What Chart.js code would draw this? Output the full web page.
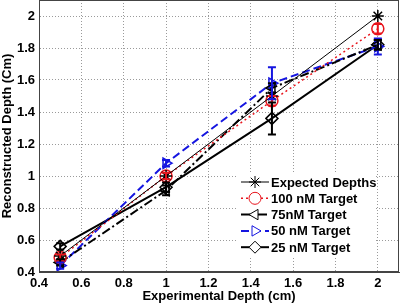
<!DOCTYPE html>
<html>
<head>
<meta charset="utf-8">
<script src="https://cdn.jsdelivr.net/npm/chart.js@4"></script>
<style>
  html, body { margin: 0; padding: 0; background: #fff; }
  #wrap { width: 400px; height: 304px; }
</style>
</head>
<body>
<div id="wrap"><canvas id="c" width="400" height="304"></canvas></div>
<script>
const depths = [0.5, 1, 1.5, 2];
const expected = [0.5, 1, 1.5, 2];
const nM100 = [0.49, 1.0, 1.47, 1.92];
const nM75 = [0.46, 0.91, 1.55, 1.82];
const nM50 = [0.44, 1.08, 1.58, 1.81];
const nM25 = [0.56, 0.93, 1.36, 1.82];
// half-width of the error bars, per point
const err100 = [0.02, 0.02, 0.03, 0.03];
const err75 = [0.02, 0.03, 0.03, 0.03];
const err50 = [0.02, 0.02, 0.1, 0.05];
const err25 = [0.02, 0.03, 0.1, 0.03];
const xTicks = [0.4, 0.6, 0.8, 1, 1.2, 1.4, 1.6, 1.8, 2];
const yTicks = [0.4, 0.6, 0.8, 1, 1.2, 1.4, 1.6, 1.8, 2];

const pts = (ys) => depths.map((x, i) => ({ x, y: ys[i] }));
const font = { family: "Arial, 'Liberation Sans', sans-serif", size: 13, weight: "bold" };
const fontCss = "bold 13px Arial, 'Liberation Sans', sans-serif";

const series = [
  { label: "Expected Depths", data: expected, err: null, color: "#000", dash: [], width: 1, style: "star", rot: 0 },
  { label: "100 nM Target", data: nM100, err: err100, color: "#e8141c", dash: [2, 3], width: 1.5, style: "circle", rot: 0 },
  { label: "75nM Target", data: nM75, err: err75, color: "#000", dash: [9, 3, 2, 3], width: 2, style: "triangle", rot: -90 },
  { label: "50 nM Target", data: nM50, err: err50, color: "#1515e0", dash: [8, 4], width: 2, style: "triangle", rot: 90 },
  { label: "25 nM Target", data: nM25, err: err25, color: "#000", dash: [], width: 2, style: "rectRot", rot: 0 },
];

const errorBars = {
  id: "errorBars",
  afterDatasetsDraw(chart) {
    const { ctx, scales } = chart;
    ctx.save();
    series.forEach((s) => {
      if (!s.err) return;
      ctx.strokeStyle = s.color;
      ctx.lineWidth = 2;
      ctx.setLineDash([]);
      s.data.forEach((v, i) => {
        const x = scales.x.getPixelForValue(depths[i]);
        const y1 = scales.y.getPixelForValue(v - s.err[i]);
        const y2 = scales.y.getPixelForValue(v + s.err[i]);
        ctx.beginPath();
        ctx.moveTo(x, y1); ctx.lineTo(x, y2);
        ctx.moveTo(x - 4, y1); ctx.lineTo(x + 4, y1);
        ctx.moveTo(x - 4, y2); ctx.lineTo(x + 4, y2);
        ctx.stroke();
      });
    });
    ctx.restore();
  },
};

// tick labels drawn by hand so the axes don't reserve extra padding
const tickLabels = {
  id: "tickLabels",
  afterDraw(chart) {
    const { ctx, scales, chartArea: a } = chart;
    ctx.save();
    ctx.font = fontCss;
    ctx.fillStyle = "#000";
    ctx.textBaseline = "middle";
    ctx.textAlign = "center";
    xTicks.forEach((v) => ctx.fillText(String(v), scales.x.getPixelForValue(v), a.bottom + 11));
    ctx.textAlign = "right";
    yTicks.forEach((v) => ctx.fillText(String(v), a.left - 4, scales.y.getPixelForValue(v)));
    ctx.restore();
  },
};

const boxLegend = {
  id: "boxLegend",
  afterDraw(chart) {
    const { ctx } = chart;
    const left = 238, top = 172, rowH = 16.3;
    ctx.save();
    ctx.fillStyle = "#fff";
    ctx.fillRect(left, top, 138, 84);
    ctx.font = fontCss;
    ctx.textBaseline = "middle";
    series.forEach((s, i) => {
      const y = top + 10 + i * rowH;
      ctx.strokeStyle = s.color;
      ctx.lineWidth = s.width;
      ctx.setLineDash(s.dash);
      ctx.beginPath();
      ctx.moveTo(left + 3, y); ctx.lineTo(left + 31, y);
      ctx.stroke();
      ctx.setLineDash([]);
      ctx.lineWidth = 1;
      ctx.fillStyle = "#fff";
      Chart.helpers.drawPoint(ctx, { pointStyle: s.style, radius: 6, rotation: s.rot, borderWidth: 1 }, left + 17, y);
      ctx.fillStyle = "#000";
      ctx.fillText(s.label, left + 33, y + 1);
    });
    ctx.restore();
  },
};

new Chart(document.getElementById("c"), {
  type: "line",
  data: {
    datasets: series.map((s) => ({
      label: s.label,
      data: pts(s.data),
      borderColor: s.color,
      borderWidth: s.width,
      borderDash: s.dash,
      pointStyle: s.style,
      pointRotation: s.rot,
      pointRadius: 6,
      pointBorderWidth: 1.5,
      pointBorderColor: s.color,
      pointBackgroundColor: "rgba(0,0,0,0)",
      tension: 0,
      fill: false,
      clip: false,
    })),
  },
  options: {
    animation: false,
    responsive: false,
    devicePixelRatio: 1,
    layout: { autoPadding: false, padding: { top: 0, right: 1, left: 0, bottom: 0 } },
    plugins: { legend: { display: false }, tooltip: { enabled: false } },
    scales: {
      x: {
        type: "linear",
        min: 0.4,
        max: 2.1,
        afterBuildTicks: (axis) => { axis.ticks = xTicks.map((v) => ({ value: v })); },
        afterFit: (axis) => { axis.height = 32; },
        ticks: { display: false },
        grid: { color: "#9a9a9a", lineWidth: 1, drawTicks: false },
        border: { display: true, color: "#444", width: 1, dash: [1, 2] },
        title: { display: true, text: "Experimental Depth (cm)", color: "#000", font, padding: { top: 0, bottom: 0 } },
      },
      y: {
        type: "linear",
        min: 0.4,
        max: 2.1,
        afterBuildTicks: (axis) => { axis.ticks = yTicks.map((v) => ({ value: v })); },
        afterFit: (axis) => { axis.width = 39; },
        ticks: { display: false },
        grid: { color: "#9a9a9a", lineWidth: 1, drawTicks: false },
        border: { display: true, color: "#444", width: 1, dash: [1, 2] },
        title: { display: true, text: "Reconstructed Depth (Cm)", color: "#000", font, padding: { top: 0, bottom: 0 } },
      },
    },
  },
  plugins: [
    errorBars,
    tickLabels,
    boxLegend,
    {
      id: "frame",
      afterDraw(chart) {
        const { ctx, chartArea: a } = chart;
        ctx.save();
        ctx.strokeStyle = "#444";
        ctx.lineWidth = 1;
        ctx.setLineDash([]);
        ctx.strokeRect(a.left + 0.5, a.top + 0.5, a.right - a.left - 1, a.bottom - a.top - 1);
        ctx.restore();
      },
    },
  ],
});
</script>
</body>
</html>
